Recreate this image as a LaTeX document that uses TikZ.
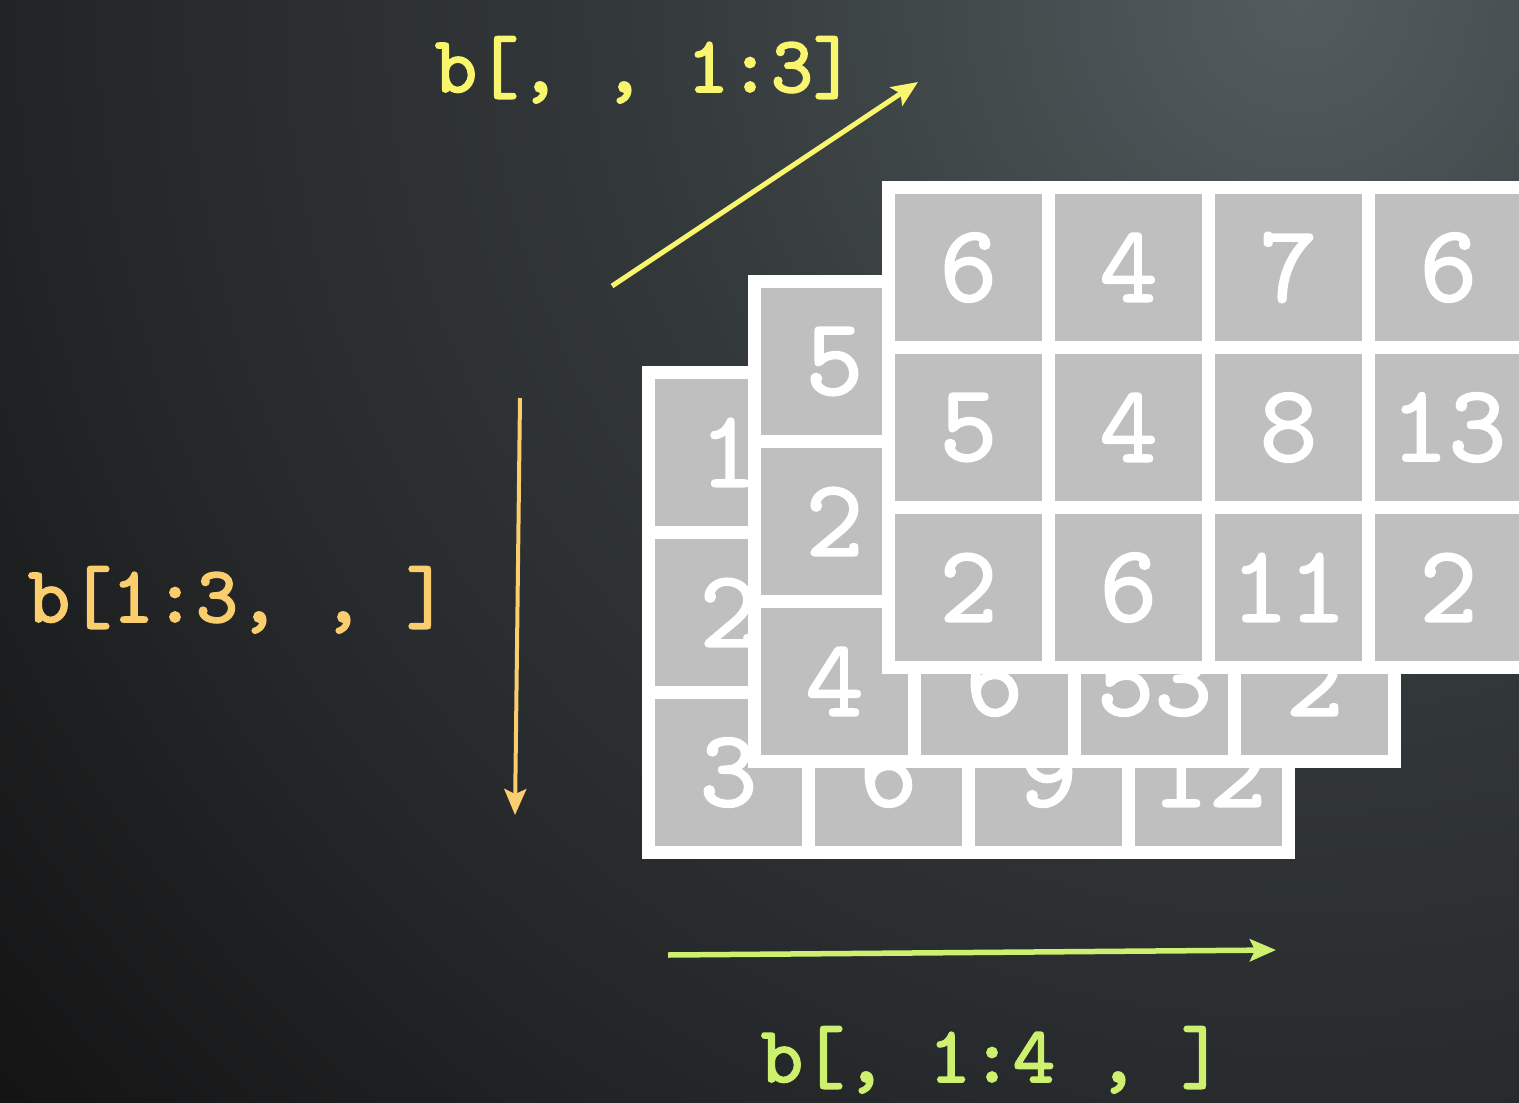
\documentclass[tikz,border=0pt]{standalone}
\usepackage{fontspec}
\usetikzlibrary{arrows.meta}

\newfontfamily\cellface{lmmono10-regular.otf}[FakeBold=1.6]
\newfontfamily\dimface{lmmono10-regular.otf}[FakeBold=2.2]

\definecolor{boardA}{RGB}{82,92,94}
\definecolor{boardB}{RGB}{68,76,78}
\definecolor{boardC}{RGB}{50,55,57}
\definecolor{boardE}{RGB}{40,43,45}
\definecolor{boardF}{RGB}{30,31,32}
\definecolor{boardD}{RGB}{18,18,19}
\definecolor{cellgray}{RGB}{191,191,191}
\definecolor{dimk}{RGB}{250,245,110}
\definecolor{dimi}{RGB}{250,205,110}
\definecolor{dimj}{RGB}{205,240,110}

\pgfdeclareradialshading{board}{\pgfpoint{0bp}{0bp}}{%
  color(0bp)=(boardA); color(4bp)=(boardB); color(9.7bp)=(boardC);
  color(15.3bp)=(boardE); color(19.4bp)=(boardF); color(24.3bp)=(boardD);
  color(50bp)=(boardD)}

\newcommand\cellfont{\fontsize{110}{110}\selectfont\cellface}
\newcommand\dimfont{\fontsize{80}{80}\selectfont\dimface}

\tikzset{
  cell/.style={fill=cellgray, text=white, minimum width=147pt,
    minimum height=147pt, inner sep=0pt, font=\cellfont},
  dimlabel/.style={anchor=base, inner sep=0pt, font=\dimfont},
  dimarrow/.style={-{Stealth[length=26pt,width=22pt,inset=5pt]}}
}

\begin{document}
\begin{tikzpicture}[x=1pt,y=-1pt]
\useasboundingbox (0,0) rectangle (1519,1103);
\clip (0,0) rectangle (1519,1103);
\fill[boardD] (0,0) rectangle (1519,1103);
\shade[shading=board] (1300,0) circle (1800);

% back slice
\fill[white] (642,366) rectangle +(653,493);
\foreach \v [count=\i from 0] in {1,{},{},{},2,{},{},{},3,6,9,12} {
  \pgfmathtruncatemacro\r{div(\i,4)}
  \pgfmathtruncatemacro\c{mod(\i,4)}
  \node[cell] (s1-\r-\c) at (728.5+160*\c, 452.5+160*\r) {\v};
}

% middle slice
\fill[white] (748,275) rectangle +(653,493);
\foreach \v [count=\i from 0] in {5,{},{},{},2,{},{},{},4,6,53,2} {
  \pgfmathtruncatemacro\r{div(\i,4)}
  \pgfmathtruncatemacro\c{mod(\i,4)}
  \node[cell] (s2-\r-\c) at (834.5+160*\c, 361.5+160*\r) {\v};
}

% front slice
\fill[white] (882,181) rectangle +(653,493);
\foreach \v [count=\i from 0] in {6,4,7,6,5,4,8,13,2,6,11,2} {
  \pgfmathtruncatemacro\r{div(\i,4)}
  \pgfmathtruncatemacro\c{mod(\i,4)}
  \node[cell] (s3-\r-\c) at (968.5+160*\c, 267.5+160*\r) {\v};
}

\node[dimlabel, text=dimk] (labk) at (645,92) {b[, , 1:3]};
\node[dimlabel, text=dimi] (labi) at (238,622) {b[1:3, , ]};
\node[dimlabel, text=dimj] (labj) at (992,1082) {b[, 1:4 , ]};

\coordinate (k0) at (612,286);
\coordinate (k1) at (918,82);
\coordinate (i0) at (520,398);
\coordinate (i1) at (515,815);
\coordinate (j0) at (668,955);
\coordinate (j1) at (1276,950);

\draw[dimarrow, dimk, line width=5pt] (k0) -- (k1);
\draw[dimarrow, dimi, line width=4pt] (i0) -- (i1);
\draw[dimarrow, dimj, line width=5.5pt] (j0) -- (j1);
\end{tikzpicture}
\end{document}
